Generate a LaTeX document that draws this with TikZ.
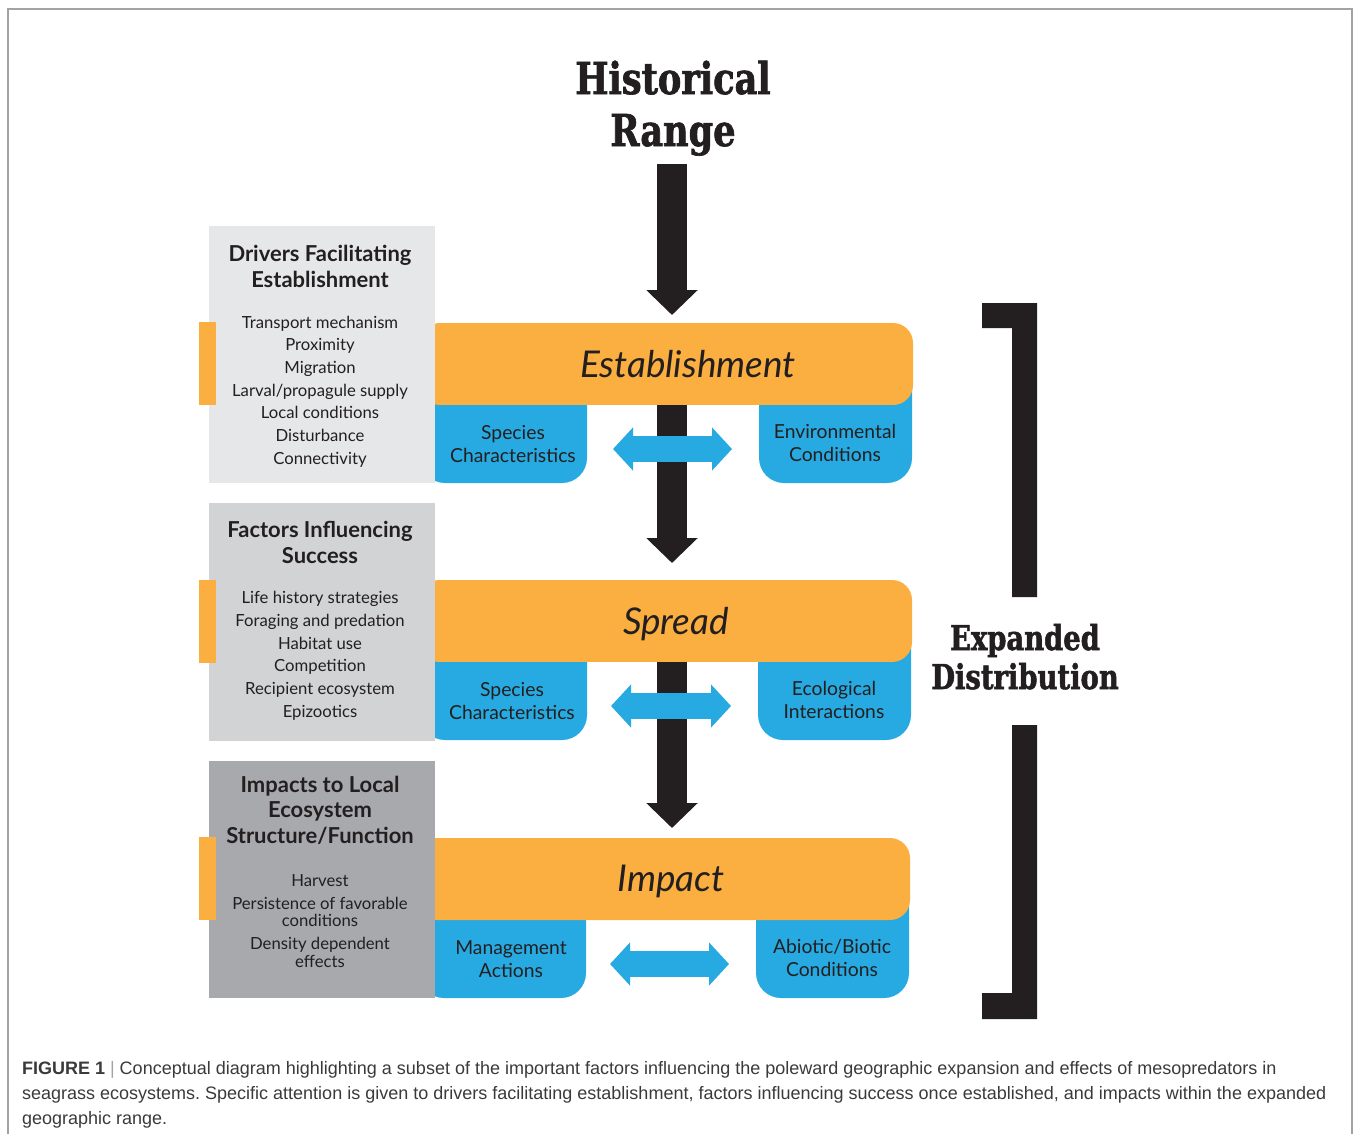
\documentclass[tikz,border=0pt]{standalone}
\usepackage{fontspec}
\setmainfont{Lato}
\newfontfamily\slabfont{DejaVu Serif}[FakeStretch=0.8, BoldFeatures={FakeBold=1.5}]
\newfontfamily\capfont{Liberation Sans}
\usepackage{tikz}
\usetikzlibrary{arrows.meta,calc}
\frenchspacing

\definecolor{barorange}{HTML}{FAAF40}
\definecolor{boxblue}{HTML}{27AAE1}
\definecolor{ink}{HTML}{231F20}
\definecolor{greyA}{HTML}{E6E7E8}
\definecolor{greyB}{HTML}{D1D3D4}
\definecolor{greyC}{HTML}{A7A9AC}
\definecolor{capgrey}{HTML}{3A3A3A}
\definecolor{rulegrey}{HTML}{A3A3A3}

\begin{document}
\begin{tikzpicture}[x=0.02cm, y=-0.02cm, outer sep=0pt, inner sep=0pt, text=ink]

\tikzstyle{stage}=[fill=barorange, rounded corners=0.4cm, minimum width=9.86cm, minimum height=1.64cm, anchor=north east]
\tikzstyle{lside}=[fill=boxblue, rounded corners=0.5cm, minimum width=3.34cm, minimum height=2.46cm, anchor=south east]
\tikzstyle{rside}=[fill=boxblue, rounded corners=0.5cm, minimum width=3.06cm, minimum height=2.46cm, anchor=south east]
\tikzstyle{panel}=[rectangle, minimum width=4.52cm, anchor=north west]
\tikzstyle{tab}=[fill=barorange, minimum width=0.34cm, minimum height=1.66cm, anchor=north west]
\tikzstyle{heading}=[font=\bfseries\fontsize{12.5}{14.5}\selectfont, align=center, anchor=base]
\tikzstyle{items}=[font=\fontsize{9.5}{12.9}\selectfont, align=center, anchor=base]
\tikzstyle{stagename}=[font=\itshape\fontsize{21}{24}\selectfont, anchor=base]
\tikzstyle{sidetext}=[font=\fontsize{11}{13}\selectfont, align=center, anchor=base]
\tikzstyle{flow}=[line width=0.6cm, draw=ink, -{Triangle[length=0.5cm, width=1cm]}]
\tikzstyle{exchange}=[line width=0.52cm, draw=boxblue, {Triangle[length=0.4cm, width=0.84cm]}-{Triangle[length=0.4cm, width=0.84cm]}]

\useasboundingbox (0,0) rectangle (1356,1134);
\draw[rulegrey, line width=0.03cm] (8,1134) |- (1352,9) -- (1352,1134);

% blue side boxes sit under the orange bars
\node[lside] (spA) at (587,483) {}; \node[rside] (envA) at (912,483) {};
\node[lside] (spB) at (587,740) {}; \node[rside] (ecoB) at (911,740) {};
\node[lside] (mgmtC) at (586,998) {}; \node[rside] (abioC) at (909,998) {};

% orange stage bars
\node[stage] (estbar) at (913,323) {};
\node[stage] (sprbar) at (912,580) {};
\node[stage] (impbar) at (910,838) {};

% grey panels on the left
\node[panel, fill=greyA, minimum height=5.14cm] (drivers) at (209,226) {};
\node[panel, fill=greyB, minimum height=4.76cm] (factors) at (209,503) {};
\node[panel, fill=greyC, minimum height=4.74cm] (impacts) at (209,761) {};
\node[tab] (tabA) at (199,322) {}; \node[tab] (tabB) at (199,580) {}; \node[tab] (tabC) at (199,837) {};

% multi-line nodes: base is the last line
\node[anchor=base, align=center, font=\slabfont\bfseries\fontsize{25}{29.6}\selectfont] (hist) at (673,146) {Historical\\Range};

% main flow
\draw[flow] ($(hist.south)+(-1,8)$) -- ($(hist.south |- estbar.north)+(-1,-8)$);
\draw[flow] ($(hist.south |- estbar.south)+(-1,0)$) -- ($(hist.south |- sprbar.north)+(-1,-17)$);
\draw[flow] ($(hist.south |- sprbar.south)+(-1,0)$) -- ($(hist.south |- impbar.north)+(-1,-10)$);

\draw[exchange] ($(spA.south east)+(26,-34)$) -- ($(envA.south west)+(-27,-34)$);
\draw[exchange] ($(spB.south east)+(24,-34)$) -- ($(ecoB.south west)+(-27,-34)$);
\draw[exchange] ($(mgmtC.south east)+(24,-34)$) -- ($(abioC.south west)+(-27,-34)$);

\node[stagename] (est) at (688,377) {Establishment};
\node[stagename] (spr) at (676,634) {Spread};
\node[stagename] (imp) at (671,891) {Impact};

\node[sidetext] (spAtxt) at (513,462) {Species\\Characteristics};
\node[sidetext] (envAtxt) at (835,461) {Environmental\\Conditions};
\node[sidetext] (spBtxt) at (512,719) {Species\\Characteristics};
\node[sidetext] (ecoBtxt) at (834,718) {Ecological\\Interactions};
\node[sidetext] (mgmtCtxt) at (511,977) {Management\\Actions};
\node[sidetext] (abioCtxt) at (832,976) {Abiotic/Biotic\\Conditions};

\node[heading] (driversHd) at (320,287) {Drivers Facilitating\\Establishment};
\node[items] (driversList) at (320,464) {Transport mechanism\\Proximity\\Migration\\Larval/propagule supply\\Local conditions\\Disturbance\\Connectivity};
\node[heading] (factorsHd) at (320,563) {Factors Influencing\\Success};
\node[items] (factorsList) at (320,717) {Life history strategies\\Foraging and predation\\Habitat use\\Competition\\Recipient ecosystem\\Epizootics};
\node[heading] (impactsHd) at (320,843) {Impacts to Local\\Ecosystem\\Structure/Function};
\node[items] (impactsList) at (320,967) {Harvest\\Persistence of favorable\\[-3pt]conditions\\Density dependent\\[-3pt]effects};

% bracket on the right
\fill[ink] (982,303) -- (1037,303) -- (1037,597) -- (1012,597) -- (1012,328) -- (982,328) -- cycle;
\fill[ink] (1012,725) -- (1037,725) -- (1037,1019) -- (982,1019) -- (982,993) -- (1012,993) -- cycle;
\node[anchor=base, align=center, font=\slabfont\bfseries\fontsize{19.5}{22.2}\selectfont] (expd) at (1025,689) {Expanded\\Distribution};

\node[anchor=base west, align=left, text=capgrey, font=\capfont\fontsize{10.25}{14}\selectfont] (caption) at (22,1124) {\textbf{FIGURE 1} {\color{rulegrey}|} Conceptual diagram highlighting a subset of the important factors influencing the poleward geographic expansion and effects of mesopredators in\\seagrass ecosystems. Specific attention is given to drivers facilitating establishment, factors influencing success once established, and impacts within the expanded\\geographic range.};

\end{tikzpicture}
\end{document}
